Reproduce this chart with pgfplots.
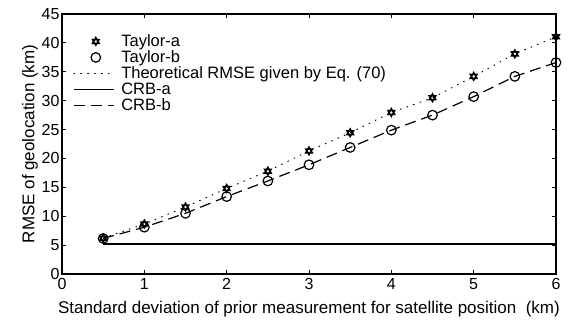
\documentclass[border=0pt]{standalone}
\usepackage{fontspec}
\setmainfont{Liberation Sans}
\usepackage{pgfplots}
\pgfplotsset{compat=1.18}
\pgfdeclareplotmark{hexagram}{%
 \pgfpathmoveto{\pgfqpointpolar{90}{\pgfplotmarksize}}%
 \pgfpathlineto{\pgfqpointpolar{210}{\pgfplotmarksize}}%
 \pgfpathlineto{\pgfqpointpolar{330}{\pgfplotmarksize}}%
 \pgfpathclose
 \pgfpathmoveto{\pgfqpointpolar{270}{\pgfplotmarksize}}%
 \pgfpathlineto{\pgfqpointpolar{30}{\pgfplotmarksize}}%
 \pgfpathlineto{\pgfqpointpolar{150}{\pgfplotmarksize}}%
 \pgfpathclose
 \pgfusepathqstroke}
\pgfplotsset{
  linelegend/.style={legend image code/.code={\path[draw=none,fill=none] (0bp,0bp) -- (46bp,0bp);\draw[##1] (0bp,0bp) -- (40bp,0bp);}},
  marklegend/.style={legend image code/.code={\path[draw=none,fill=none] (0bp,0bp) -- (46bp,0bp);\draw[##1] plot coordinates {(22bp,0bp)};}},
}
\begin{document}
\begin{tikzpicture}
\begin{axis}[name=ax,
  scale only axis, width=494bp, height=260bp,
  xmin=0, xmax=6, ymin=0, ymax=45,
  xtick={0,1,2,3,4,5,6}, ytick={0,5,...,45},
  tick align=inside, major tick length=4.5bp,
  axis line style={line width=1.3bp},
  every tick/.style={black, line width=0.9bp},
  /pgf/number format/assume math mode=true,
  ticklabel style={font=\fontsize{16bp}{18bp}\selectfont},
  xticklabel style={yshift=-1bp},
  yticklabel style={xshift=1bp},
  label style={font=\fontsize{17bp}{19bp}\selectfont},
  xlabel={Standard deviation of prior measurement for satellite position\ \ (km)},
  ylabel={RMSE of geolocation (km)},
  xlabel style={yshift=-4bp},
  ylabel style={yshift=-3bp},
  legend style={draw=none, fill=none, at={(0.0223,0.927)}, anchor=north west,
    font=\fontsize{16.5bp}{17bp}\selectfont, row sep=-0.4bp, inner sep=0bp,
    nodes={inner sep=1.5bp}},
  legend cell align=left,
]
\addplot[only marks, mark=hexagram, mark size=3.8bp, line width=1.5bp, marklegend] coordinates {
(0.5,6.2)(1,8.65)(1.5,11.6)(2,14.8)(2.5,17.8)(3,21.3)(3.5,24.45)(4,27.95)(4.5,30.5)(5,34.2)(5.5,38.1)(6,41.05)};
\addlegendentry{Taylor-a}
\addplot[only marks, mark=o, mark size=4.8bp, line width=1.2bp, marklegend] coordinates {
(0.5,6.15)(1,8.1)(1.5,10.5)(2,13.4)(2.5,16.1)(3,18.9)(3.5,21.9)(4,24.9)(4.5,27.5)(5,30.7)(5.5,34.2)(6,36.6)};
\addlegendentry{Taylor-b}
\addplot[line width=1bp, dash pattern=on 0.9bp off 6bp, line cap=round, linelegend] coordinates {
(0.5,6.2)(1,8.65)(1.5,11.6)(2,14.8)(2.5,17.8)(3,21.3)(3.5,24.45)(4,27.95)(4.5,30.5)(5,34.2)(5.5,38.1)(6,41.05)};
\addlegendentry{Theoretical RMSE given by Eq. (70)}
\addplot[line width=1.2bp, linelegend] coordinates {(0.5,5.2)(6,5.2)};
\addlegendentry{CRB-a}
\addplot[line width=1.2bp, dash pattern=on 11bp off 6bp, linelegend] coordinates {
(0.5,6.15)(1,8.1)(1.5,10.5)(2,13.4)(2.5,16.1)(3,18.9)(3.5,21.9)(4,24.9)(4.5,27.5)(5,30.7)(5.5,34.2)(6,36.6)};
\addlegendentry{CRB-b}
\end{axis}
\pgfresetboundingbox
\path ([shift={(-62bp,-46bp)}]ax.south west) rectangle ([shift={(23bp,14bp)}]ax.north east);
\end{tikzpicture}
\end{document}
